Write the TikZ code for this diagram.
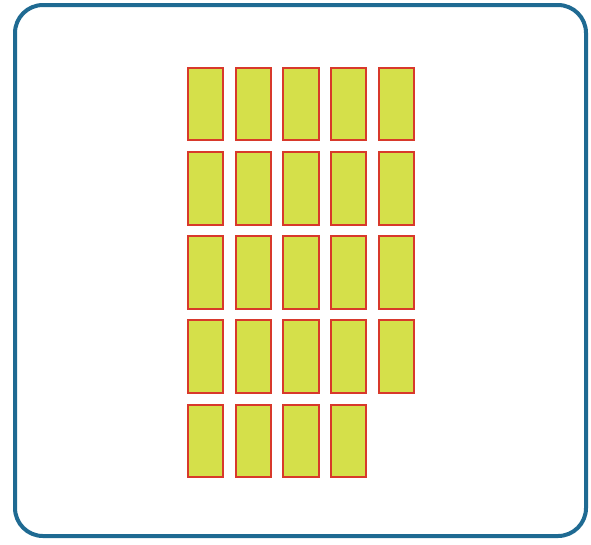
\documentclass[tikz,border=0pt]{standalone}
\usepackage{tikz}
\usepackage{xcolor}
\definecolor{frameBlue}{HTML}{1F6A92}
\definecolor{tileFill}{HTML}{D5E04A}
\definecolor{tileLine}{HTML}{D8392B}

\begin{document}
\begin{tikzpicture}[
  x=0.75pt, y=-0.75pt,
  frame/.style={draw=frameBlue, line width=3pt, rounded corners=21pt, fill=white},
  tile/.style={draw=tileLine, line width=1.4pt, fill=tileFill, minimum width=26.5pt, minimum height=54.5pt, inner sep=0pt, outer sep=0pt}
]
\useasboundingbox (0,0) rectangle (591,544);
\draw[frame] (15,5) rectangle (586,536);

% four full rows of five
\foreach \r in {0,...,3}
  \foreach \c in {0,...,4}
    \node[tile] (tile-\r-\c) at ({205.5+47.75*\c},{104+84.25*\r}) {};
% last row has four
\foreach \c in {0,...,3}
  \node[tile] (tile-4-\c) at ({205.5+47.75*\c},{104+84.25*4}) {};
\end{tikzpicture}
\end{document}
